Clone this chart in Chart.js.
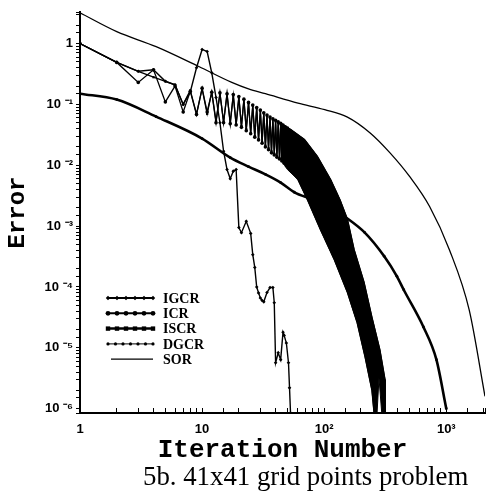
<!DOCTYPE html>
<html>
<head>
<meta charset="utf-8">
<script src="https://cdn.jsdelivr.net/npm/chart.js@4.4.1/dist/chart.umd.min.js"></script>
<style>
  html, body { margin: 0; padding: 0; background: #fff; }
  #wrap { position: relative; width: 489px; height: 494px; }
  #caption { position: absolute; left: 143px; top: 463px; font: 26.8px 'Liberation Serif', serif; line-height: 26px; color: #000; white-space: nowrap; }
</style>
</head>
<body>
<div id="wrap">
  <canvas id="errChart" width="489" height="494"></canvas>
  <div id="caption">5b. 41x41 grid points problem</div>
</div>
<script>
// Convergence histories (iteration number vs error)
const igcrIter = [1, 2, 3, 4, 5, 6, 7, 8, 9, 10, 11, 12, 13, 14, 15, 16, 17, 18, 19, 20, 21, 23, 25, 26, 27, 28, 29, 30, 31, 32, 34, 36, 38, 39, 40, 42, 44, 46, 47, 49, 51, 52, 53];
const igcrErr = [1.0, 0.49, 0.35, 0.37, 0.24, 0.21, 0.1, 0.16, 0.4, 0.8, 0.74, 0.33, 0.13, 0.05, 0.017, 0.0085, 0.006, 0.008, 0.0085, 9.5e-4, 7.8e-4, 1.2e-3, 7.6e-4, 3.4e-4, 2.1e-4, 1.0e-4, 8e-5, 6.6e-5, 6e-5, 5.7e-5, 8.1e-5, 9.8e-5, 9.8e-5, 5.5e-5, 5.7e-6, 8.3e-6, 6.4e-6, 1.8e-5, 1.6e-5, 1.2e-5, 5.7e-6, 2.2e-6, 8.5e-7];

const icrIter = [1, 2, 3, 4, 5, 6, 7, 8, 9, 10, 11, 12, 13, 14, 15, 16, 17, 18, 19, 20, 21, 22, 23, 24, 25, 26, 27, 28, 29, 30, 31, 32, 33, 34, 35, 36, 37, 38, 39, 40, 41, 42, 43, 44, 45, 46, 47, 48, 49, 50,
  53, 69, 88, 113, 135, 155, 176, 212, 246, 286, 315, 316];
const icrErr = [1.0, 0.49, 0.23, 0.37, 0.11, 0.2, 0.075, 0.165, 0.068, 0.185, 0.075, 0.158, 0.05, 0.155, 0.05, 0.15, 0.048, 0.145, 0.046, 0.135, 0.042, 0.122, 0.037, 0.108, 0.033, 0.098, 0.029, 0.089, 0.026, 0.081, 0.023, 0.073, 0.02, 0.067, 0.018, 0.062, 0.016, 0.058, 0.0148, 0.055, 0.0136, 0.052, 0.0127, 0.049, 0.0118, 0.046, 0.0108, 0.043, 0.0098, 0.041,
  0.039, 0.0266, 0.014, 0.0058, 0.0027, 0.0013, 4.1e-4, 1.2e-4, 3.2e-5, 9.3e-6, 3e-6, 8.5e-7];

const iscrIter = [1, 2, 3, 4, 5, 6, 7, 8, 9, 10, 11, 12, 13, 14, 15, 16, 17, 18, 19, 20, 21, 22, 23, 24, 25, 26, 27, 28, 29, 30, 31, 32, 33, 34, 35, 36, 37, 38, 39, 40, 41, 42, 43, 44, 45, 46, 47, 48, 49, 50,
  52, 61, 73, 93, 121, 155, 186, 216, 246, 256];
const iscrErr = [1.0, 0.49, 0.35, 0.28, 0.24, 0.21, 0.1, 0.17, 0.07, 0.18, 0.07, 0.16, 0.053, 0.15, 0.052, 0.147, 0.05, 0.14, 0.047, 0.13, 0.044, 0.118, 0.039, 0.104, 0.034, 0.095, 0.03, 0.086, 0.027, 0.078, 0.024, 0.071, 0.021, 0.065, 0.019, 0.06, 0.017, 0.056, 0.0155, 0.053, 0.014, 0.05, 0.013, 0.047, 0.012, 0.044, 0.011, 0.042, 0.0102, 0.04,
  0.0085, 0.0058, 0.0027, 8.8e-4, 2.8e-4, 8.1e-5, 2.6e-5, 7.1e-6, 2e-6, 8.5e-7];

// outline of the region where the ICR / ISCR oscillations merge into a solid band
const bandIter = [44, 53, 69, 88, 113, 135, 155, 176, 212, 246, 286, 315, 316, 296, 281, 271, 256, 246, 216, 186, 155, 121, 93, 73, 61, 50, 44];
const bandErr = [0.05, 0.039, 0.0266, 0.014, 0.0058, 0.0027, 0.0013, 4.1e-4, 1.2e-4, 3.2e-5, 9.3e-6, 3e-6, 8.5e-7, 8.5e-7, 3.2e-6, 8.5e-7, 8.5e-7, 2e-6, 7.1e-6, 2.6e-5, 8.1e-5, 2.8e-4, 8.8e-4, 2.7e-3, 5.8e-3, 8.5e-3, 0.0125];

const dgcrIter = [1, 2, 4.2, 10, 17, 24, 33, 44, 57, 75, 100, 150, 214, 310, 394, 448, 650, 830, 1000];
const dgcrErr = [0.15, 0.12, 0.063, 0.0275, 0.0134, 0.0095, 0.0071, 0.0052, 0.0036, 0.0029, 0.0024, 0.0014, 7.9e-4, 3.2e-4, 1.5e-4, 9e-5, 2.2e-5, 6.4e-6, 1e-6];

const sorIter = [1, 2, 4.2, 9.4, 17.5, 24, 33, 61, 101, 155, 238, 346, 502, 730, 1060, 1540, 2075];
const sorErr = [3.2, 1.57, 0.89, 0.42, 0.23, 0.18, 0.15, 0.105, 0.082, 0.062, 0.034, 0.016, 0.0065, 0.0021, 4.1e-4, 4.2e-5, 1.6e-6];

const xMin = 1, xMax = 2075;
const yMin = 8.5e-7, yMax = 3.3;

const toPoints = (xs, ys) => xs.map((x, i) => ({ x: x, y: ys[i] }));

const supDigits = { '-': '\u207B', '0': '\u2070', '1': '\u00B9', '2': '\u00B2', '3': '\u00B3', '4': '\u2074', '5': '\u2075', '6': '\u2076', '7': '\u2077', '8': '\u2078', '9': '\u2079' };
function decadeLabel(v, spaced) {
    const e = Math.log10(v);
    const r = Math.round(e);
    if (Math.abs(e - r) > 1e-6) return '';
    if (r === 0) return '1';
    if (r === 1) return '10';
    const sup = String(r).split('').map(c => supDigits[c]).join('');
    return spaced ? '10 ' + sup : '10' + sup;
}

function drawMark(ctx, style, x, y, r) {
    ctx.beginPath();
    if (style === 'rect') {
        ctx.rect(x - r, y - r, 2 * r, 2 * r);
    } else if (style === 'rectRot') {
        ctx.moveTo(x, y - r); ctx.lineTo(x + r, y); ctx.lineTo(x, y + r); ctx.lineTo(x - r, y);
        ctx.closePath();
    } else {
        ctx.arc(x, y, r, 0, Math.PI * 2);
    }
    ctx.fill();
}

// legend drawn inside the plot, lower left, like the original
const insetLegend = {
    id: 'insetLegend',
    afterDatasetsDraw(chart) {
        const { ctx, chartArea } = chart;
        let y = chartArea.top + 286;
        chart.data.datasets.forEach(ds => {
            if (!ds.label) return;
            const m = ds.legendMark;
            const x0 = chartArea.left + m.from, x1 = chartArea.left + 73;
            ctx.save();
            ctx.strokeStyle = '#000';
            ctx.fillStyle = '#000';
            ctx.lineWidth = m.lw;
            ctx.beginPath();
            ctx.moveTo(x0, y);
            ctx.lineTo(x1, y);
            ctx.stroke();
            for (let i = 0; i < m.n; i++) {
                drawMark(ctx, m.style, x0 + (x1 - x0) * i / (m.n - 1), y, m.r);
            }
            ctx.font = 'bold 14px "Liberation Serif", serif';
            ctx.textBaseline = 'middle';
            ctx.fillText(ds.label, chartArea.left + 83, y + 1);
            ctx.restore();
            y += 15.3;
        });
    }
};

const ctx = document.getElementById('errChart');
new Chart(ctx, {
    type: 'line',
    data: {
        datasets: [
            {
                label: 'IGCR',
                data: toPoints(igcrIter, igcrErr),
                borderColor: '#000', backgroundColor: '#000', borderWidth: 1.4,
                pointRadius: 1.8, pointStyle: 'rectRot', pointBorderWidth: 0,
                legendMark: { style: 'rectRot', r: 2.2, n: 6, lw: 2, from: 28 }
            },
            {
                label: 'ICR',
                data: toPoints(icrIter, icrErr),
                borderColor: '#000', backgroundColor: '#000', borderWidth: 1.3,
                pointRadius: c => (c.raw && c.raw.x <= 50 ? 1.8 : 0), pointBorderWidth: 0,
                legendMark: { style: 'circle', r: 2.4, n: 6, lw: 2, from: 28 }
            },
            {
                label: 'ISCR',
                data: toPoints(iscrIter, iscrErr),
                borderColor: '#000', backgroundColor: '#000', borderWidth: 1.3,
                pointRadius: c => (c.raw && c.raw.x <= 50 ? 1.6 : 0), pointStyle: 'rect', pointBorderWidth: 0,
                legendMark: { style: 'rect', r: 2.2, n: 6, lw: 2.5, from: 28 }
            },
            {
                label: 'DGCR',
                data: toPoints(dgcrIter, dgcrErr),
                borderColor: '#000', backgroundColor: '#000', borderWidth: 2.6,
                pointRadius: 1.4, pointBorderWidth: 0,
                cubicInterpolationMode: 'monotone',
                legendMark: { style: 'circle', r: 1.6, n: 7, lw: 1, from: 28 }
            },
            {
                label: 'SOR',
                data: toPoints(sorIter, sorErr),
                borderColor: '#000', borderWidth: 1.3,
                pointRadius: 0,
                cubicInterpolationMode: 'monotone',
                legendMark: { style: 'circle', r: 0, n: 2, lw: 1.2, from: 31 }
            },
            {
                label: '',
                data: toPoints(bandIter, bandErr),
                borderColor: '#000', backgroundColor: '#000', borderWidth: 1,
                pointRadius: 0, fill: 'shape'
            }
        ]
    },
    options: {
        responsive: false,
        animation: false,
        devicePixelRatio: 1,
        layout: { padding: { top: 12, right: 0, bottom: 30, left: 0 } },
        plugins: {
            legend: { display: false },
            tooltip: { enabled: false }
        },
        scales: {
            x: {
                type: 'logarithmic',
                min: xMin, max: xMax,
                afterFit: s => { s.height = 51; s.paddingLeft = 0; s.paddingRight = 0; },
                border: { display: true, color: '#000', width: 2 },
                grid: { drawOnChartArea: false, drawTicks: true, tickLength: -5, color: '#000', lineWidth: 1 },
                ticks: {
                    autoSkip: false, maxRotation: 0, padding: 14, color: '#000',
                    font: { family: '"Liberation Sans", sans-serif', size: 13, weight: 'bold' },
                    callback: v => decadeLabel(v, false)
                },
                title: {
                    display: true, text: 'Iteration Number', color: '#000',
                    font: { family: '"Liberation Mono", monospace', size: 26, weight: 'bold', lineHeight: 1 },
                    padding: { top: 0, bottom: 1 }
                }
            },
            y: {
                type: 'logarithmic',
                min: yMin, max: yMax,
                afterFit: s => { s.width = 80; },
                border: { display: true, color: '#000', width: 2 },
                grid: { drawOnChartArea: false, drawTicks: true, tickLength: 4, color: '#000', lineWidth: 1 },
                ticks: {
                    autoSkip: false, padding: 3, color: '#000',
                    font: { family: '"Liberation Sans", sans-serif', size: 13, weight: 'bold' },
                    callback: v => decadeLabel(v, true)
                },
                title: {
                    display: true, text: 'Error', color: '#000',
                    font: { family: '"Liberation Mono", monospace', size: 24, weight: 'bold', lineHeight: 1 },
                    padding: { top: 6, bottom: 0 }
                }
            }
        }
    },
    plugins: [insetLegend]
});
</script>
</body>
</html>
